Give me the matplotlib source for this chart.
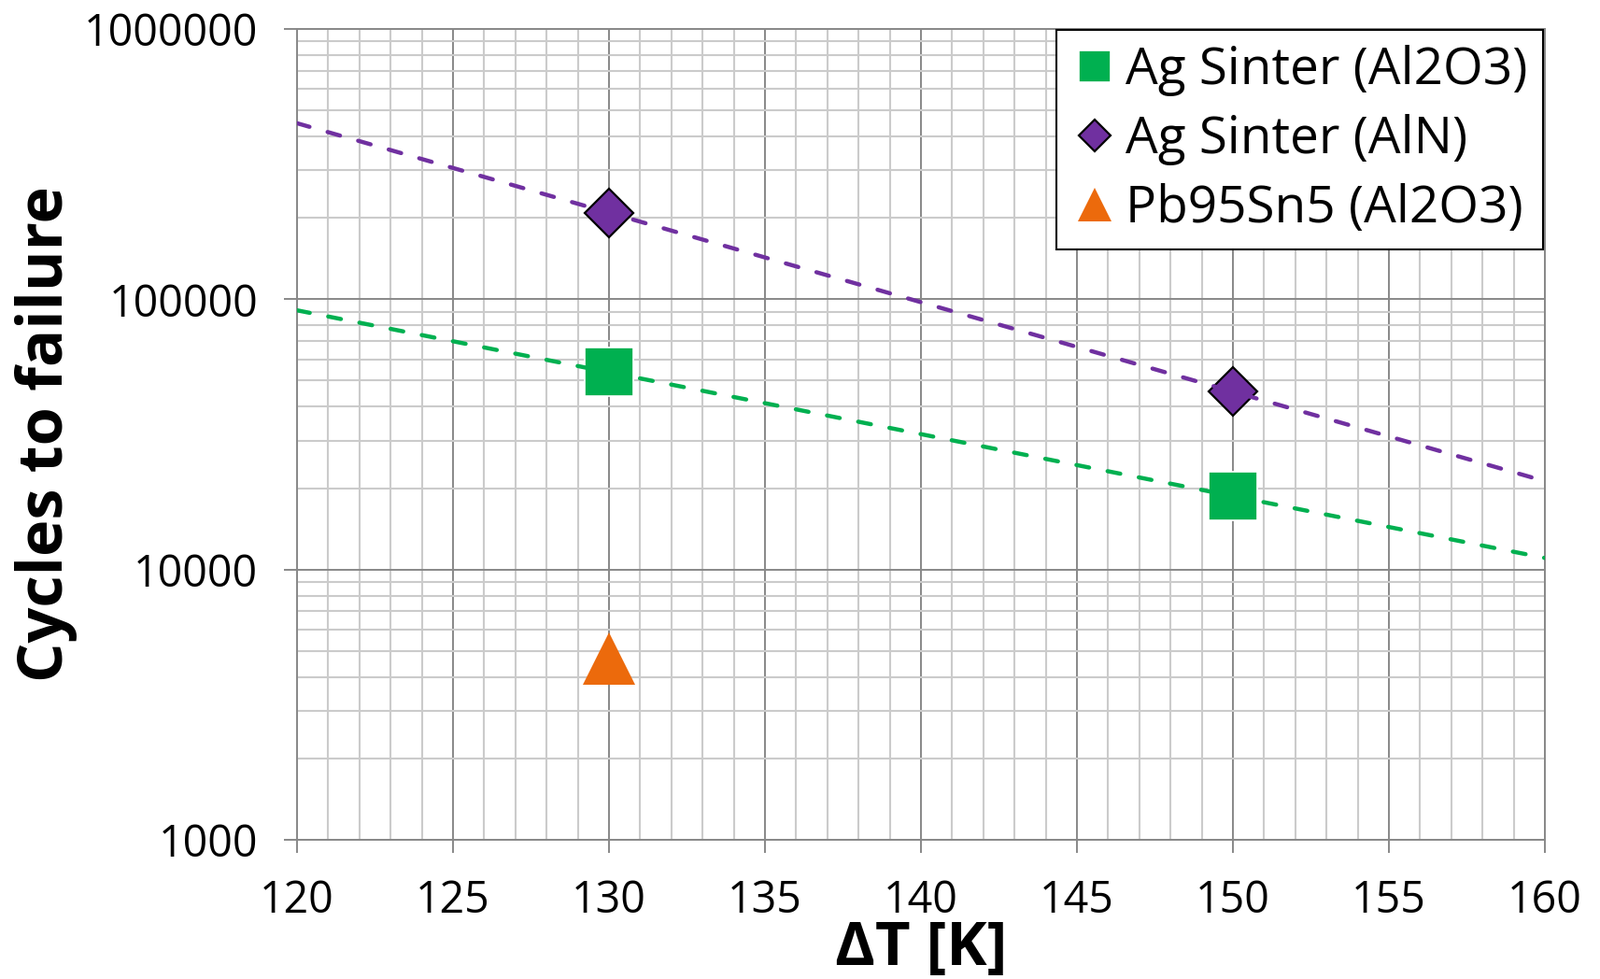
import numpy as np
import matplotlib
matplotlib.use("Agg")
import matplotlib.pyplot as plt
from matplotlib.ticker import MultipleLocator, LogLocator, FuncFormatter, NullFormatter

plt.rcParams['font.family'] = ['Open Sans', 'DejaVu Sans']
plt.rcParams['lines.scale_dashes'] = False

# data
dT = [130, 150]
ag_al2o3 = [53700, 18700]      # Ag Sinter on Al2O3
ag_aln = [209000, 45500]       # Ag Sinter on AlN
pb_dT = [130]
pb_al2o3 = [4700]              # Pb95Sn5 on Al2O3

green = '#00B050'
purple = '#7030A0'
orange = '#EC6A0C'

W, H = 1713, 1048
fig = plt.figure(figsize=(W / 100, H / 100), dpi=100)
ax = fig.add_axes([318 / W, 1 - 899 / H, (1654 - 318) / W, (899 - 31) / H])

ax.set_yscale('log')
ax.set_xlim(120, 160)
ax.set_ylim(1000, 1000000)

# grid
ax.xaxis.set_major_locator(MultipleLocator(5))
ax.xaxis.set_minor_locator(MultipleLocator(1))
ax.yaxis.set_major_locator(LogLocator(base=10))
ax.yaxis.set_minor_locator(LogLocator(base=10, subs=np.arange(2, 10)))
ax.yaxis.set_major_formatter(FuncFormatter(lambda v, p: f"{int(round(v))}"))
ax.yaxis.set_minor_formatter(NullFormatter())
ax.set_axisbelow(True)
ax.grid(which='major', color='#888888', lw=1.4)
ax.grid(which='minor', color='#cbcbcb', lw=1.5)

ax.tick_params(which='major', length=10, width=1.4, color='#888888',
               labelsize=33.5, pad=20)
ax.tick_params(axis='x', which='major', pad=20)
ax.tick_params(which='minor', length=0)
for s in ax.spines.values():
    s.set_color('#888888')
    s.set_linewidth(1.4)

# points
ax.plot(dT, ag_al2o3, 's', ms=37, color=green, mec='white', mew=1.2,
        zorder=3, label='Ag Sinter (Al2O3)')
ax.plot(dT, ag_aln, 'D', ms=26, color=purple, mec='black', mew=1.6,
        zorder=3, label='Ag Sinter (AlN)')
ax.plot(pb_dT, pb_al2o3, '^', ms=40, color=orange, mec=orange, mew=0,
        zorder=3, label='Pb95Sn5 (Al2O3)')

# exponential trendlines fitted to each Ag series
xfit = np.linspace(120, 160, 100)
for yv, c in [(ag_aln, purple), (ag_al2o3, green)]:
    k, b = np.polyfit(dT, np.log10(yv), 1)
    ax.plot(xfit, 10 ** (k * xfit + b), color=c, lw=3.2,
            dashes=(10, 14.5), dash_capstyle='round', zorder=4)

ax.set_xlabel('ΔT [K]', fontsize=47, fontweight='bold', labelpad=-3)
ax.set_ylabel('Cycles to failure', fontsize=48, fontweight='bold', labelpad=5)

leg = ax.legend(loc='upper right', bbox_to_anchor=(0.9985, 0.9988),
                borderaxespad=0, fontsize=39.5, markerscale=0.65,
                handlelength=0.9, handletextpad=0.15, borderpad=0.3,
                labelspacing=0.34, fancybox=False, framealpha=1,
                edgecolor='black')
leg.get_frame().set_linewidth(1.5)

fig.savefig('out.png', dpi=100)
